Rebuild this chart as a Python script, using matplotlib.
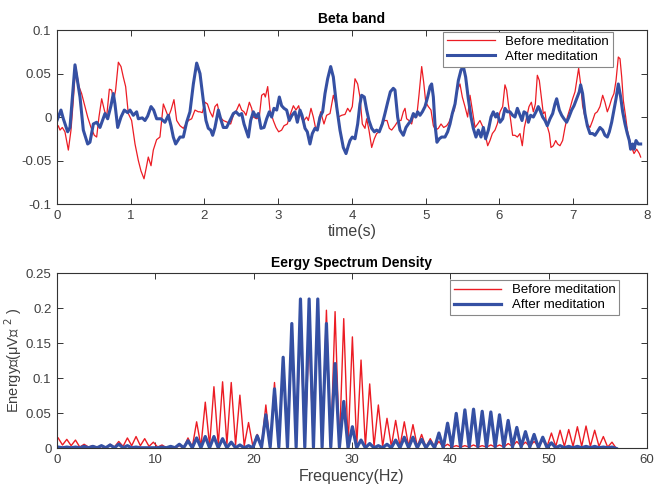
import numpy as np
import matplotlib
matplotlib.use("Agg")
import matplotlib.pyplot as plt

plt.rcParams['font.family'] = ['Liberation Sans', 'DejaVu Sans']

RED = '#ec1c24'
BLUE = '#3550a3'
GREY = '#404040'

# ---- beta band, (time s, amplitude) ----
before_pts = [
    (0, -0.013), (0.018, -0.010), (0.041, -0.015), (0.072, -0.012), (0.108, -0.017), (0.154, -0.038),
    (0.19, -0.015), (0.221, 0.019), (0.253, 0.058), (0.298, 0.035), (0.334, 0.027), (0.371, 0.015),
    (0.416, 0.0), (0.461, -0.012), (0.506, -0.021), (0.538, -0.023), (0.569, 0.0), (0.606, 0.021),
    (0.642, 0.008), (0.673, 0.0), (0.71, 0.032), (0.741, 0.031), (0.768, 0.019), (0.795, 0.031),
    (0.832, 0.063), (0.868, 0.058), (0.899, 0.046), (0.931, 0.035), (0.967, 0.004), (1.012, -0.004),
    (1.058, -0.031), (1.103, -0.050), (1.139, -0.062), (1.18, -0.071), (1.211, -0.058), (1.238, -0.046),
    (1.275, -0.056), (1.306, -0.038), (1.351, -0.026), (1.396, -0.023), (1.442, 0.015), (1.473, 0.008),
    (1.51, 0.0), (1.546, 0.008), (1.586, 0.020), (1.623, -0.004), (1.668, -0.010), (1.713, -0.013),
    (1.749, -0.008), (1.781, -0.004), (1.826, -0.002), (1.871, 0.008), (1.916, 0.006),
    (1.939, 0.006), (1.97, 0.005), (2.007, 0.017), (2.04, 0.015), (2.075, 0.006), (2.111, 0.0),
    (2.142, 0.012), (2.174, 0.015), (2.21, 0.0), (2.255, -0.004), (2.31, -0.006), (2.355, -0.008),
    (2.391, 0.002), (2.436, 0.008), (2.472, 0.015), (2.504, 0.008), (2.536, 0.006), (2.563, 0.002),
    (2.608, 0.017), (2.64, 0.010), (2.662, 0.0), (2.707, -0.002), (2.743, 0.0), (2.775, 0.025),
    (2.807, 0.027), (2.825, 0.023), (2.857, 0.035), (2.888, 0.008), (2.933, -0.004), (2.97, -0.012),
    (3.006, -0.017), (3.046, -0.015), (3.078, -0.010), (3.123, -0.008), (3.159, 0.002), (3.205, 0.013),
    (3.24, 0.008), (3.277, 0.013), (3.318, -0.002), (3.349, -0.004), (3.385, 0.0), (3.408, -0.004),
    (3.444, 0.010), (3.476, 0.0), (3.512, -0.015), (3.543, -0.008), (3.575, 0.006), (3.62, -0.008),
    (3.656, 0.002), (3.702, 0.004), (3.747, 0.025), (3.783, 0.015), (3.815, 0.0), (3.86, 0.002),
    (3.905, 0.003), (3.941, 0.010), (3.973, 0.006), (4.004, 0.012), (4.041, 0.044), (4.077, 0.038),
    (4.108, 0.023), (4.14, -0.008), (4.176, -0.013), (4.199, -0.002), (4.23, -0.015), (4.267, -0.035),
    (4.303, -0.025), (4.334, -0.019), (4.37, -0.017), (4.402, -0.008), (4.438, -0.004), (4.475, -0.004),
    (4.506, -0.013), (4.538, -0.015), (4.583, -0.010), (4.628, -0.004), (4.664, -0.004), (4.696, 0.006),
    (4.719, 0.010), (4.741, -0.002), (4.773, -0.004), (4.809, -0.008), (4.84, 0.004), (4.877, 0.0),
    (4.908, 0.025), (4.945, 0.058), (4.972, 0.040), (5.0, 0.017), (5.035, 0.012), (5.071, 0.008),
    (5.103, -0.010), (5.134, -0.015), (5.171, -0.013), (5.207, -0.008), (5.243, -0.012), (5.284, -0.010),
    (5.315, -0.006), (5.351, 0.002), (5.388, 0.008), (5.419, 0.029), (5.464, 0.038), (5.496, 0.023),
    (5.532, 0.012), (5.568, 0.0), (5.6, 0.025), (5.632, 0.008), (5.668, -0.012), (5.704, -0.008),
    (5.735, -0.004), (5.767, -0.010), (5.803, -0.019), (5.84, -0.033), (5.871, -0.027), (5.903, -0.019),
    (5.939, -0.015), (5.97, -0.008), (6.007, 0.006), (6.043, 0.012), (6.074, 0.037), (6.097, 0.031),
    (6.12, 0.015), (6.152, -0.004), (6.178, -0.021), (6.21, -0.021), (6.242, -0.023), (6.278, -0.019),
    (6.309, -0.033), (6.337, -0.012), (6.368, 0.0), (6.4, 0.012), (6.432, 0.017), (6.459, 0.006),
    (6.486, 0.015), (6.513, 0.048), (6.54, 0.042), (6.572, 0.019), (6.594, 0.004), (6.617, 0.006),
    (6.639, -0.008), (6.676, -0.019), (6.698, -0.035), (6.73, -0.033), (6.762, -0.027), (6.788, -0.031),
    (6.82, -0.033), (6.856, -0.027), (6.888, -0.012), (6.92, 0.0), (6.956, 0.010), (6.992, 0.021),
    (7.024, 0.029), (7.055, 0.046), (7.073, 0.056), (7.1, 0.038), (7.127, 0.013), (7.159, 0.0),
    (7.191, -0.008), (7.227, -0.012), (7.263, -0.004), (7.295, 0.004), (7.326, 0.006), (7.362, 0.012),
    (7.399, 0.025), (7.43, 0.017), (7.462, 0.006), (7.489, 0.012), (7.521, 0.021), (7.552, 0.027),
    (7.58, 0.042), (7.611, 0.069), (7.634, 0.067), (7.657, 0.046), (7.679, 0.019), (7.711, 0.0),
    (7.733, -0.015), (7.76, -0.025), (7.792, -0.035), (7.824, -0.042), (7.86, -0.037), (7.896, -0.042),
    (7.914, -0.046),
]

after_pts = [
    (0, -0.004), (0.054, 0.008), (0.086, -0.002), (0.145, -0.017), (0.176, -0.012), (0.244, 0.060),
    (0.312, 0.023), (0.357, -0.015), (0.416, -0.031), (0.447, -0.029), (0.493, -0.008), (0.538, -0.006),
    (0.583, -0.012), (0.651, 0.004), (0.687, -0.002), (0.732, 0.013), (0.764, 0.027), (0.786, 0.015),
    (0.823, -0.012), (0.868, 0.0), (0.913, 0.008), (0.958, 0.005), (0.99, 0.008), (1.035, 0.002),
    (1.08, 0.006), (1.103, -0.002), (1.157, -0.001), (1.193, -0.004), (1.229, 0.001), (1.275, 0.012),
    (1.311, 0.008), (1.351, -0.002), (1.41, -0.002), (1.464, -0.006), (1.51, 0.002), (1.546, -0.010),
    (1.577, -0.023), (1.609, -0.031), (1.668, -0.023), (1.713, -0.023), (1.758, -0.006), (1.803, 0.006),
    (1.849, 0.038), (1.894, 0.062), (1.939, 0.050), (1.984, 0.019), (2.02, -0.004), (2.052, -0.013),
    (2.084, -0.015), (2.111, -0.021), (2.142, -0.012), (2.188, 0.008), (2.219, -0.002), (2.255, -0.012),
    (2.3, -0.012), (2.346, -0.004), (2.391, 0.004), (2.427, 0.006), (2.472, 0.002), (2.504, 0.004),
    (2.536, -0.008), (2.572, -0.017), (2.595, -0.023), (2.626, -0.004), (2.662, 0.006), (2.698, 0.0),
    (2.73, 0.004), (2.766, -0.013), (2.807, -0.012), (2.843, -0.002), (2.879, 0.006), (2.911, 0.0),
    (2.942, 0.010), (2.979, 0.008), (3.015, 0.023), (3.046, 0.013), (3.078, 0.010), (3.114, 0.008),
    (3.15, -0.004), (3.186, 0.002), (3.227, 0.006), (3.259, -0.006), (3.295, 0.008), (3.322, 0.002),
    (3.363, -0.013), (3.394, -0.017), (3.43, -0.031), (3.462, -0.019), (3.498, -0.013), (3.53, -0.015),
    (3.566, 0.0), (3.602, 0.006), (3.634, 0.027), (3.67, 0.044), (3.711, 0.058), (3.747, 0.046),
    (3.792, 0.012), (3.837, -0.015), (3.882, -0.035), (3.919, -0.042), (3.95, -0.033), (3.973, -0.027),
    (4.004, -0.023), (4.041, -0.025), (4.077, -0.008), (4.108, 0.015), (4.131, 0.025), (4.167, 0.023),
    (4.199, 0.008), (4.23, -0.004), (4.267, -0.013), (4.303, -0.017), (4.334, -0.015), (4.37, -0.017),
    (4.411, -0.008), (4.447, 0.004), (4.484, 0.017), (4.52, 0.029), (4.56, 0.033), (4.583, 0.031),
    (4.619, 0.0), (4.651, -0.015), (4.696, -0.021), (4.732, -0.012), (4.764, -0.008), (4.8, -0.004),
    (4.832, 0.004), (4.863, 0.0), (4.89, 0.006), (4.922, 0.002), (4.954, 0.006), (4.99, 0.012),
    (5.026, 0.023), (5.058, 0.035), (5.08, 0.038), (5.103, 0.023), (5.125, -0.008), (5.152, -0.029),
    (5.184, -0.025), (5.216, -0.023), (5.261, -0.023), (5.297, -0.017), (5.329, -0.008), (5.36, 0.004),
    (5.397, 0.015), (5.442, 0.042), (5.478, 0.054), (5.51, 0.058), (5.541, 0.046), (5.577, 0.021),
    (5.614, 0.0), (5.645, -0.013), (5.681, -0.023), (5.713, -0.015), (5.749, -0.023), (5.781, -0.012),
    (5.812, -0.025), (5.849, -0.015), (5.885, 0.0), (5.916, 0.006), (5.948, 0.0), (5.97, 0.004),
    (6.007, -0.006), (6.043, -0.002), (6.074, 0.010), (6.106, 0.006), (6.142, 0.006), (6.178, 0.002),
    (6.21, 0.0), (6.242, 0.010), (6.278, 0.002), (6.305, -0.004), (6.332, 0.006), (6.368, 0.004),
    (6.391, -0.006), (6.422, 0.002), (6.459, 0.0), (6.495, 0.006), (6.526, 0.012), (6.549, 0.008),
    (6.585, 0.0), (6.617, -0.004), (6.648, -0.010), (6.685, -0.002), (6.721, 0.004), (6.752, 0.015),
    (6.775, 0.021), (6.811, 0.008), (6.843, 0.002), (6.874, -0.002), (6.91, -0.006), (6.942, 0.0),
    (6.978, 0.008), (7.01, 0.013), (7.046, 0.021), (7.082, 0.029), (7.1, 0.037), (7.127, 0.027),
    (7.159, 0.004), (7.191, -0.010), (7.227, -0.019), (7.263, -0.019), (7.295, -0.021), (7.326, -0.017),
    (7.362, -0.012), (7.399, -0.015), (7.43, -0.021), (7.462, -0.023), (7.489, -0.017), (7.521, -0.006),
    (7.552, 0.008), (7.58, 0.021), (7.611, 0.038), (7.643, 0.023), (7.67, 0.006), (7.702, -0.008),
    (7.733, -0.019), (7.76, -0.027), (7.778, -0.037), (7.806, -0.031), (7.824, -0.037), (7.851, -0.027),
    (7.882, -0.031), (7.914, -0.031),
]

# ---- energy spectrum: comb peaks (every 0.88 Hz from 0.12 Hz) and the dips after each ----
comb_start = 0.12
comb_step = 0.88

before_peaks = [0.015, 0.013, 0.012, 0.006, 0.004, 0.003, 0.006, 0.010, 0.015, 0.017,
                0.014, 0.009, 0.005, 0.002, 0.004, 0.015, 0.038, 0.066, 0.088, 0.095,
                0.094, 0.076, 0.037, 0.020, 0.062, 0.094, 0.125, 0.165, 0.175, 0.160,
                0.200, 0.197, 0.195, 0.185, 0.159, 0.126, 0.092, 0.062, 0.043, 0.040,
                0.038, 0.034, 0.020, 0.014, 0.010, 0.006, 0.004, 0.004, 0.005, 0.004,
                0.005, 0.005, 0.007, 0.010, 0.009, 0.010, 0.012, 0.022, 0.026, 0.027,
                0.031, 0.032, 0.026, 0.017, 0.009]
before_dips = [0.005, 0.004, 0.002, 0.002, 0.001, 0.001, 0.002, 0.003, 0.004, 0.004,
               0.003, 0.002, 0.001, 0.001, 0.001, 0.002, 0.003, 0.004, 0.005, 0.006,
               0.005, 0.004, 0.003, 0.004, 0.004, 0.004, 0.003, 0.003, 0.002, 0.002,
               0.002, 0.002, 0.003, 0.003, 0.003, 0.003, 0.003, 0.003, 0.003, 0.003,
               0.003, 0.003, 0.002, 0.002, 0.002, 0.002, 0.002, 0.002, 0.002, 0.002,
               0.002, 0.002, 0.003, 0.003, 0.003, 0.003, 0.003, 0.003, 0.003, 0.003,
               0.003, 0.003, 0.003, 0.002, 0.0]

after_peaks = [0.002, 0.002, 0.002, 0.003, 0.003, 0.004, 0.005, 0.006, 0.004, 0.002,
               0.001, 0.001, 0.002, 0.003, 0.006, 0.011, 0.015, 0.017, 0.017, 0.014,
               0.009, 0.005, 0.004, 0.018, 0.048, 0.085, 0.130, 0.178, 0.213, 0.213,
               0.213, 0.178, 0.121, 0.067, 0.031, 0.012, 0.007, 0.004, 0.006, 0.012,
               0.016, 0.016, 0.013, 0.010, 0.022, 0.036, 0.050, 0.055, 0.056, 0.053,
               0.052, 0.048, 0.040, 0.030, 0.024, 0.020, 0.016, 0.008, 0.004, 0.003,
               0.003, 0.003, 0.003, 0.002, 0.002]
after_dips = [0.001, 0.001, 0.001, 0.001, 0.001, 0.001, 0.001, 0.001, 0.001, 0.001,
              0.001, 0.001, 0.001, 0.001, 0.001, 0.001, 0.001, 0.001, 0.001, 0.001,
              0.001, 0.001, 0.001, 0.002, 0.002, 0.002, 0.002, 0.002, 0.002, 0.002,
              0.002, 0.002, 0.002, 0.001, 0.001, 0.001, 0.001, 0.001, 0.001, 0.001,
              0.001, 0.001, 0.001, 0.001, 0.001, 0.002, 0.002, 0.002, 0.002, 0.002,
              0.002, 0.002, 0.002, 0.002, 0.002, 0.001, 0.001, 0.001, 0.001, 0.001,
              0.001, 0.001, 0.001, 0.001, 0.0]


def comb(peaks, dips):
    vals = np.empty(len(peaks) + len(dips))
    vals[0::2] = peaks
    vals[1::2] = dips
    freq = comb_start + comb_step / 2 * np.arange(len(vals))
    return freq, vals


def style_axes(ax):
    ax.tick_params(direction='in', top=True, right=True, length=4, width=0.7,
                   labelsize=9.5, labelcolor=GREY, colors='#333333', pad=4)
    for s in ax.spines.values():
        s.set_linewidth(0.8)
        s.set_color('#333333')


fig = plt.figure(figsize=(6.72, 4.86), dpi=100)

# top: beta band
ax1 = fig.add_axes([0.0848, 0.5802, 0.878, 0.358])
tb, vb = np.array(before_pts).T
ta, va = np.array(after_pts).T
ax1.plot(tb, vb, color=RED, lw=0.9, label='Before meditation')
ax1.plot(ta, va, color=BLUE, lw=2.2, label='After meditation')
ax1.set_xlim(0, 8)
ax1.set_ylim(-0.1, 0.1)
ax1.set_xticks(range(9))
ax1.set_yticks([-0.1, -0.05, 0, 0.05, 0.1])
ax1.set_yticklabels(['-0.1', '-0.05', '0', '0.05', '0.1'])
ax1.set_title('Beta band', fontsize=10, fontweight='bold', pad=5)
ax1.set_xlabel('time(s)', fontsize=11.5, color=GREY, labelpad=2)
style_axes(ax1)
leg1 = ax1.legend(loc='upper right', bbox_to_anchor=(0.942, 0.99), fontsize=9.5,
                  fancybox=False, edgecolor='#888888', framealpha=1,
                  handlelength=3.6, borderpad=0.3, labelspacing=0.2, borderaxespad=0)
leg1.get_frame().set_linewidth(0.8)

# bottom: energy spectrum density
ax2 = fig.add_axes([0.0848, 0.0772, 0.878, 0.361])
fb, eb = comb(before_peaks, before_dips)
fa, ea = comb(after_peaks, after_dips)
ax2.plot(fb, eb, color=RED, lw=1.0, label='Before meditation')
ax2.plot(fa, ea, color=BLUE, lw=2.3, label='After meditation')
ax2.set_xlim(0, 60)
ax2.set_ylim(0, 0.25)
ax2.set_xticks(range(0, 61, 10))
ax2.set_yticks([0, 0.05, 0.1, 0.15, 0.2, 0.25])
ax2.set_yticklabels(['0', '0.05', '0.1', '0.15', '0.2', '0.25'])
ax2.set_title('Eergy Spectrum Density', fontsize=10, fontweight='bold', pad=4)
ax2.set_xlabel('Frequency(Hz)', fontsize=11.5, color=GREY, labelpad=2)
ax2.set_ylabel('Energy\u27e6(\u03bcV\u27e7 $^{2}$ )', fontsize=10.5, color=GREY, labelpad=1)
style_axes(ax2)
leg2 = ax2.legend(loc='upper right', bbox_to_anchor=(0.953, 0.96), fontsize=9.5,
                  fancybox=False, edgecolor='#888888', framealpha=1,
                  handlelength=3.6, borderpad=0.3, labelspacing=0.2, borderaxespad=0)
leg2.get_frame().set_linewidth(0.8)

fig.savefig('out.png', dpi=100)
